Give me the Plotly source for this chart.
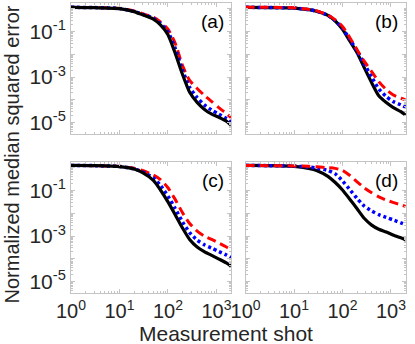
import plotly.graph_objects as go
from plotly.subplots import make_subplots

# measurement shots (same grid in every panel)
shots = [1, 3, 10, 20, 30, 50, 70, 100, 140, 200, 280, 400, 560, 800, 1100, 1600, 2000]

# (a)
a_red = [1.15, 1.12, 1.05, 0.794, 0.603, 0.417, 0.263, 0.126, 0.0316, 3.16e-3, 7.08e-4, 3.16e-4, 1.58e-4, 8.32e-5, 4.68e-5, 2.51e-5, 1.66e-5]
a_blue = [1.15, 1.12, 1.02, 0.759, 0.562, 0.380, 0.224, 0.0955, 0.0191, 2.0e-3, 3.55e-4, 1.26e-4, 6.03e-5, 3.55e-5, 2.40e-5, 1.51e-5, 1.05e-5]
a_black = [1.15, 1.12, 1.00, 0.741, 0.537, 0.347, 0.195, 0.0724, 0.0117, 1.29e-3, 2.14e-4, 7.76e-5, 3.89e-5, 2.34e-5, 1.74e-5, 1.17e-5, 7.76e-6]

# (b)
b_red = [1.17, 1.15, 1.10, 0.933, 0.794, 0.525, 0.331, 0.166, 0.0562, 0.0158, 5.01e-3, 1.74e-3, 6.31e-4, 2.82e-4, 1.66e-4, 1.17e-4, 1.0e-4]
b_blue = [1.15, 1.12, 1.07, 0.912, 0.759, 0.513, 0.302, 0.138, 0.0468, 0.0141, 3.80e-3, 1.0e-3, 3.02e-4, 1.38e-4, 8.51e-5, 6.03e-5, 4.79e-5]
b_black = [1.15, 1.12, 1.07, 0.912, 0.759, 0.513, 0.295, 0.126, 0.0398, 0.0117, 2.63e-3, 5.62e-4, 1.51e-4, 7.59e-5, 4.68e-5, 3.02e-5, 2.14e-5]

# (c)
c_red = [1.26, 1.23, 1.15, 0.955, 0.759, 0.479, 0.302, 0.132, 0.0417, 0.0105, 3.55e-3, 1.66e-3, 1.0e-3, 7.08e-4, 5.01e-4, 3.31e-4, 2.51e-4]
c_blue = [1.26, 1.23, 1.12, 0.891, 0.661, 0.355, 0.166, 0.0562, 0.0166, 4.17e-3, 1.41e-3, 6.61e-4, 4.17e-4, 2.95e-4, 2.14e-4, 1.48e-4, 1.12e-4]
c_black = [1.26, 1.23, 1.12, 0.871, 0.603, 0.275, 0.105, 0.0316, 8.91e-3, 2.24e-3, 7.08e-4, 3.31e-4, 2.09e-4, 1.41e-4, 1.0e-4, 6.61e-5, 4.79e-5]

# (d)
d_red = [1.26, 1.23, 1.20, 1.15, 1.10, 1.0, 0.933, 0.759, 0.468, 0.240, 0.132, 0.0794, 0.0525, 0.0380, 0.0302, 0.0234, 0.0200]
d_blue = [1.26, 1.23, 1.17, 1.07, 0.955, 0.759, 0.550, 0.263, 0.112, 0.0447, 0.0209, 0.0126, 8.71e-3, 6.61e-3, 5.13e-3, 3.80e-3, 3.16e-3]
d_black = [1.26, 1.23, 1.15, 0.933, 0.741, 0.417, 0.229, 0.105, 0.0427, 0.0158, 6.03e-3, 3.02e-3, 2.0e-3, 1.51e-3, 1.12e-3, 8.32e-4, 6.92e-4]

panel_labels = ["(a)", "(b)", "(c)", "(d)"]
y_tick_vals = [1e-5, 1e-4, 1e-3, 1e-2, 1e-1, 1]
y_tick_text = ["10<sup>-5</sup>", "", "10<sup>-3</sup>", "", "10<sup>-1</sup>", ""]
x_tick_vals = [1, 10, 100, 1000]
x_tick_text = ["10<sup>0</sup>", "10<sup>1</sup>", "10<sup>2</sup>", "10<sup>3</sup>"]

panels = [
    (1, 1, a_red, a_blue, a_black, True),
    (1, 2, b_red, b_blue, b_black, False),
    (2, 1, c_red, c_blue, c_black, True),
    (2, 2, d_red, d_blue, d_black, False),
]

FONT = "Liberation Sans, Arial, sans-serif"
AXC = "#c4c4c4"

fig = make_subplots(rows=2, cols=2, horizontal_spacing=0.042, vertical_spacing=0.0966)

for row, col, red, blue, black, black_top in panels:
    red_tr = go.Scatter(x=shots, y=red, mode="lines", line=dict(color="#ff0000", width=3, dash="9px,5px", shape="spline", smoothing=0.6))
    blue_tr = go.Scatter(x=shots, y=blue, mode="lines", line=dict(color="#0000ff", width=3.5, dash="3px,3px", shape="spline", smoothing=0.6))
    black_tr = go.Scatter(x=shots, y=black, mode="lines", line=dict(color="black", width=3.2, shape="spline", smoothing=0.6))
    order = [red_tr, blue_tr, black_tr] if black_top else [black_tr, blue_tr, red_tr]
    for tr in order:
        fig.add_trace(tr, row=row, col=col)

    fig.update_xaxes(type="log", range=[0, 3.31], tickmode="array", tickvals=x_tick_vals, ticktext=x_tick_text,
                     showticklabels=(row == 2), row=row, col=col)
    fig.update_yaxes(type="log", range=[-5.5, 0.25], tickmode="array", tickvals=y_tick_vals, ticktext=y_tick_text,
                     showticklabels=(col == 1), row=row, col=col)

fig.update_xaxes(showgrid=False, zeroline=False, showline=True, linecolor=AXC, linewidth=1, mirror="allticks",
                 ticks="inside", ticklen=4, tickcolor=AXC, automargin=False,
                 minor=dict(ticks="inside", ticklen=2, tickcolor=AXC, dtick="D1", showgrid=False),
                 tickfont=dict(family=FONT, size=20, color="#262626"))
fig.update_yaxes(showgrid=False, zeroline=False, showline=True, linecolor=AXC, linewidth=1, mirror="allticks",
                 ticks="inside", ticklen=4, tickcolor=AXC, automargin=False,
                 minor=dict(ticks="inside", ticklen=2, tickcolor=AXC, dtick="D1", showgrid=False),
                 tickfont=dict(family=FONT, size=21, color="#262626"))

# panel labels
for i, lab in enumerate(panel_labels):
    sfx = "" if i == 0 else str(i + 1)
    fig.add_annotation(text=lab, xref=f"x{sfx} domain", yref=f"y{sfx} domain", x=0.965, y=0.86,
                       xanchor="right", yanchor="middle", showarrow=False,
                       font=dict(family=FONT, size=19, color="black"))

fig.add_annotation(text="Measurement shot", xref="paper", yref="paper", x=0.463, y=-0.138,
                   xanchor="center", yanchor="middle", showarrow=False,
                   font=dict(family=FONT, size=21, color="#262626"))
fig.add_annotation(text="Normalized median squared error", xref="paper", yref="paper", x=-0.175, y=0.479,
                   xanchor="center", yanchor="middle", textangle=-90, showarrow=False,
                   font=dict(family=FONT, size=20, color="#262626"))

fig.update_layout(width=415, height=344, margin=dict(l=71, r=9, t=3, b=51, autoexpand=False),
                  plot_bgcolor="white", paper_bgcolor="white", showlegend=False)

# the page body has a default 8px margin; drop it so the figure sits at the window's corner
fig.write_html("out.html", config={"displayModeBar": False},
               post_script="document.body.style.margin='0';")
